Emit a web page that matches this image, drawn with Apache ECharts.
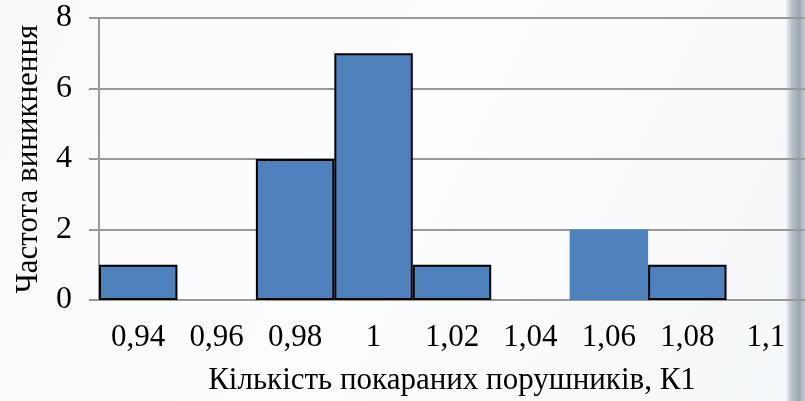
<!DOCTYPE html>
<html><head><meta charset="utf-8">
<script src="https://cdn.jsdelivr.net/npm/echarts@6/dist/echarts.min.js"></script>
<style>html,body{margin:0;padding:0;background:#f8fafc}#c{width:805px;height:401px}</style>
</head><body><div id="c"></div>
<script>
const categories = ['0,94','0,96','0,98','1','1,02','1,04','1,06','1,08','1,1'];
const frequencies = [1,0,4,7,1,0,2,1,0];
const yTicks = [0,2,4,6,8];
const xTitle = 'Кількість покараних порушників, К1';
const yTitle = 'Частота виникнення';

const chart = echarts.init(document.getElementById('c'));
const font = '"Liberation Serif","Times New Roman",serif';
chart.setOption({
  backgroundColor: {type:'linear',x:0,y:0,x2:1,y2:1,colorStops:[{offset:0,color:'#f8fafc'},{offset:0.5,color:'#fcfdfe'},{offset:1,color:'#f4f7f9'}]},
  animation:false,
  graphic:[{type:'rect',left:786,top:0,shape:{width:19,height:401},z:-1,
    style:{fill:{type:'linear',x:0,y:0,x2:1,y2:0,colorStops:[{offset:0,color:'#eef1f3'},{offset:0.3,color:'#b9c2c9'},{offset:0.7,color:'#9aa6ae'},{offset:1,color:'#c6ced3'}]}}}],
  grid:{left:99,top:18,right:0,bottom:101,containLabel:false,outerBoundsMode:'none'},
  xAxis:{type:'category',data:categories,
    name:xTitle,nameLocation:'middle',nameGap:65,
    nameTextStyle:{fontFamily:font,fontSize:31,color:'#000'},
    axisLine:{lineStyle:{color:'#999',width:2}},axisTick:{show:false},
    axisLabel:{fontFamily:font,fontSize:31,color:'#000',margin:22,interval:0}},
  yAxis:{type:'value',min:yTicks[0],max:yTicks[yTicks.length-1],interval:2,
    name:yTitle,nameLocation:'middle',nameGap:55,
    nameTextStyle:{fontFamily:font,fontSize:31,color:'#000'},
    axisLine:{show:true,lineStyle:{color:'#999',width:2}},
    axisTick:{show:true,length:10,lineStyle:{color:'#999',width:2}},
    splitLine:{lineStyle:{color:'#999',width:2}},
    axisLabel:{fontFamily:font,fontSize:32,color:'#000',margin:27}},
  series:[{type:'bar',barCategoryGap:'0%',
    data:frequencies.map((v,i)=> (i===6 || v===0) ? {value:v,itemStyle:{borderWidth:0}} : v),
    itemStyle:{color:'#4f81bd',borderColor:'#000',borderWidth:2}}]
});
</script></body></html>
